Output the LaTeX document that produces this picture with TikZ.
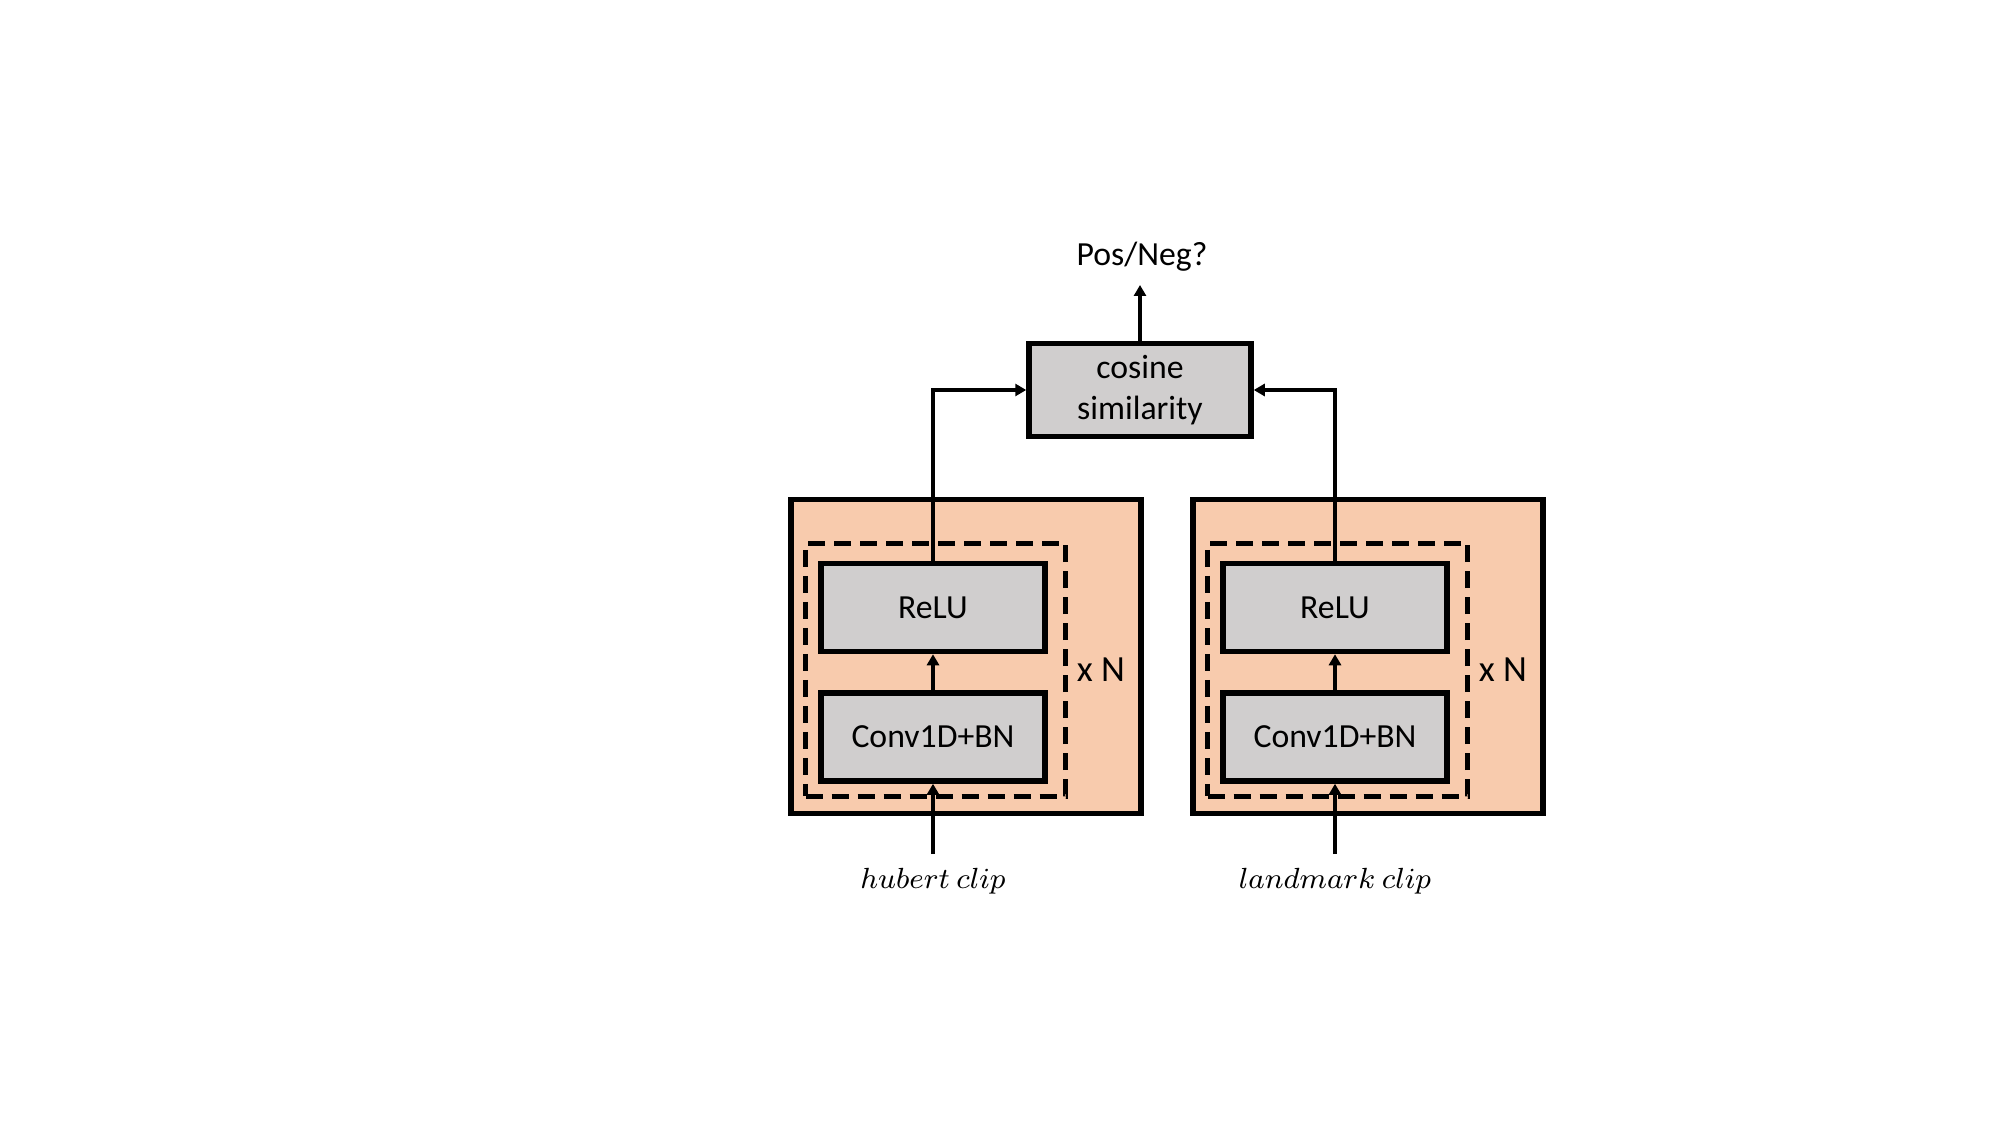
\RequirePackage{fix-cm}
\documentclass[tikz,border=0pt]{standalone}
\usepackage{fontspec}
\setmainfont{Carlito}
\usetikzlibrary{positioning,arrows.meta}
\definecolor{peach}{HTML}{F8CBAD}
\definecolor{cellgray}{HTML}{D0CECE}
\tikzstyle{layer}=[draw=black,fill=#1,line width=0.55mm,minimum width=2.24cm,minimum height=0.88cm]
\tikzstyle{wrap}=[draw=black,fill=peach,line width=0.55mm,minimum width=3.50cm,minimum height=3.14cm]
\tikzstyle{repeatbox}=[draw=black,line width=0.5mm,dash pattern=on 1.7mm off 0.9mm,minimum width=2.60cm,minimum height=2.53cm]
\newcommand{\link}[2]{ \draw[flow] (#1) -- (#2);}
\newcommand{\encoder}[3]{
    \node[wrap] (#1wrap) at (#2+0.33,4.685) {};
    \node[repeatbox] (#1rep) at (#2+0.025,4.555) {};
    \node[layer=cellgray] (#1conv) at (#2,3.88) {Conv1D+BN};
    \node[layer=cellgray,above=0.36cm of #1conv] (#1relu) {ReLU};
    \node[right=-1pt of #1rep,font=\fontsize{10.5}{12}\selectfont] (#1times) {x N};
    \coordinate (#1in) at (#2,2.71);
    \node[anchor=base,font=\fontsize{8.3}{10}\selectfont] (#1clip) at (#2,2.37) {$#3$};
    \link{#1in}{#1conv}
    \link{#1conv}{#1relu}
}
\tikzset{
	flow/.style={-{Triangle[length=1.1mm,width=1.2mm]},line width=0.35mm},
}

\begin{document}
\begin{tikzpicture}[font=\fontsize{9.6}{11.6}\selectfont]
    \useasboundingbox (0,0) rectangle (20,11.25);

    \encoder{H}{9.33}{hubert\ clip}
    \encoder{L}{13.35}{landmark\ clip}

    \node[layer=cellgray,align=center,minimum width=2.22cm,minimum height=0.84cm] (cos) at (11.40,7.35) {cosine\\similarity};
    \coordinate (out) at (11.40,8.40);
    \node[anchor=base] (verdict) at (11.42,8.59) {Pos/Neg?};

    \draw[flow] (Hrelu.north) |- (cos.west);
    \draw[flow] (Lrelu.north) |- (cos.east);
    \link{cos}{out}
\end{tikzpicture}
\end{document}
